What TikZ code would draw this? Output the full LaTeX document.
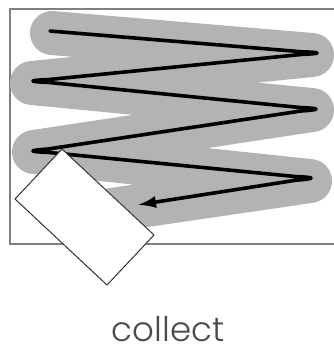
\documentclass[tikz,border=0pt]{standalone}
\usepackage{fontspec}
\newfontfamily\labelfont{Poppins Light}
\usetikzlibrary{arrows.meta,calc}
\definecolor{band}{HTML}{B3B3B3}
\definecolor{framec}{HTML}{808080}
\definecolor{textc}{HTML}{4A4A4A}
\tikzset{
  bandline/.style={draw=band, line width=44pt, line cap=round, line join=round},
  zigline/.style={draw=black, line width=3.6pt, line cap=round, line join=round, -{Latex[length=19pt,width=12pt]}},
  framebox/.style={draw=framec, line width=1.5pt},
  cardbox/.style={draw=black!80, fill=white, line width=1pt, line join=miter},
}
\begin{document}
\begin{tikzpicture}[x=1pt,y=-1pt]
\useasboundingbox (0,0) rectangle (333,354);
% frame
\coordinate (f1) at (334,9);
\coordinate (f2) at (10,9);
\coordinate (f3) at (10,244);
\coordinate (f4) at (334,244);
\draw[framebox] (f1) -- (f2) -- (f3) -- (f4);
% gray band
\coordinate (g0) at (52,33);
\coordinate (g1) at (312,55);
\coordinate (g2) at (32,83);
\coordinate (g3) at (312,110);
\coordinate (g4) at (34,152);
\coordinate (g5) at (310,181);
\coordinate (g6) at (105,211);
\draw[bandline] (g0) -- (g1) -- (g2) -- (g3) -- (g4) -- (g5) -- (g6);
% black zigzag
\coordinate (b0) at (50,31);
\coordinate (b1) at (316,53);
\coordinate (b2) at (34,81);
\coordinate (b3) at (315,109);
\coordinate (b4) at (34,151);
\coordinate (b5) at (310,178);
\coordinate (b6) at (137,205);
\draw[zigline] (b0)
  -- ($(b1)+(-14,-1.2)$) .. controls ($(b1)+(6,-0.6)$) and ($(b1)+(6,0.6)$) .. ($(b1)+(-14,1.4)$)
  -- ($(b2)+(14,-1.4)$) .. controls ($(b2)+(-6,-0.6)$) and ($(b2)+(-6,0.6)$) .. ($(b2)+(14,1.4)$)
  -- ($(b3)+(-14,-1.4)$) .. controls ($(b3)+(6,-0.6)$) and ($(b3)+(6,0.6)$) .. ($(b3)+(-14,2.0)$)
  -- ($(b4)+(14,-2.0)$) .. controls ($(b4)+(-6,-0.6)$) and ($(b4)+(-6,0.6)$) .. ($(b4)+(14,1.4)$)
  -- ($(b5)+(-14,-1.4)$) .. controls ($(b5)+(6,-0.6)$) and ($(b5)+(6,0.6)$) .. ($(b5)+(-14,2.2)$)
  -- (b6);
% card
\coordinate (c1) at (62,149);
\coordinate (c2) at (154,235);
\coordinate (c3) at (107,285);
\coordinate (c4) at (15,199);
\draw[cardbox] (c1) -- (c2) -- (c3) -- (c4) -- cycle;
% label
\node[text=textc, font=\labelfont\fontsize{34}{38}\selectfont, anchor=base, inner sep=0pt] (lbl) at (168,341) {collect};
\end{tikzpicture}
\end{document}
